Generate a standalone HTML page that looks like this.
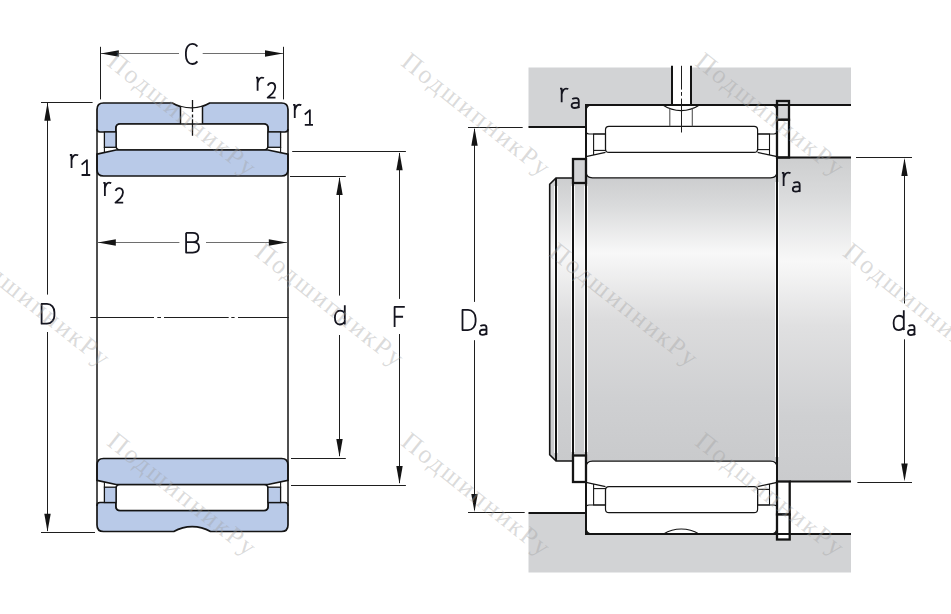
<!DOCTYPE html>
<html><head><meta charset="utf-8"><style>
html,body{margin:0;padding:0;background:#fff;width:951px;height:614px;overflow:hidden}
svg{display:block}
</style></head><body>
<svg width="951" height="614" viewBox="0 0 951 614">
<rect width="951" height="614" fill="#fff"/>
<path d="M97,109.5 Q97,103 103.5,103 L172.3,103 A36.2,36.2 0 0 0 209.7,103 L281.5,103 Q288,103 288,109.5 L288,129 Q288,132 285,132 L268,132 L268,128 Q268,124 264,124 L120,124 Q116,124 116,128 L116,132 L100,132 Q97,132 97,129 Z" fill="#b9cae8" stroke="#141414" stroke-width="1.7"/>
<path d="M180.5,106.64 A36.2,36.2 0 0 0 202.5,106.75 L202.5,124 L180.5,124 Z" fill="#fff"/>
<line x1="180.5" y1="106.3" x2="180.5" y2="124" stroke="#141414" stroke-width="1.5" />
<line x1="202.5" y1="106.6" x2="202.5" y2="124" stroke="#141414" stroke-width="1.5" />
<rect x="116" y="124" width="152" height="26" rx="4" fill="#fff" stroke="#141414" stroke-width="1.7"/>
<rect x="104.4" y="132" width="11.6" height="15.3" fill="#b9cae8" stroke="#141414" stroke-width="1.3"/>
<rect x="268" y="132" width="12.6" height="15.3" fill="#b9cae8" stroke="#141414" stroke-width="1.3"/>
<line x1="104.4" y1="147" x2="104.4" y2="152.6" stroke="#141414" stroke-width="1.1" />
<line x1="280.6" y1="147" x2="280.6" y2="152.6" stroke="#141414" stroke-width="1.1" />
<path d="M97,154.2 L116,150 L268,150 L288,154.2 L288,169.5 Q288,176 281.5,176 L103.5,176 Q97,176 97,169.5 Z" fill="#b9cae8" stroke="#141414" stroke-width="1.7"/>
<g transform="translate(0 634.5) scale(1 -1)">
<path d="M97,109.5 Q97,103 103.5,103 L173.8,103 A37.5,37.5 0 0 0 210.5,103 L281.5,103 Q288,103 288,109.5 L288,129 Q288,132 285,132 L268,132 L268,128 Q268,124 264,124 L120,124 Q116,124 116,128 L116,132 L100,132 Q97,132 97,129 Z" fill="#b9cae8" stroke="#141414" stroke-width="1.7"/>
<rect x="116" y="124" width="152" height="26" rx="4" fill="#fff" stroke="#141414" stroke-width="1.7"/>
<rect x="104.4" y="132" width="11.6" height="15.3" fill="#b9cae8" stroke="#141414" stroke-width="1.3"/>
<rect x="268" y="132" width="12.6" height="15.3" fill="#b9cae8" stroke="#141414" stroke-width="1.3"/>
<line x1="104.4" y1="147" x2="104.4" y2="152.6" stroke="#141414" stroke-width="1.1" />
<line x1="280.6" y1="147" x2="280.6" y2="152.6" stroke="#141414" stroke-width="1.1" />
<path d="M97,154.2 L116,150 L268,150 L288,154.2 L288,169.5 Q288,176 281.5,176 L103.5,176 Q97,176 97,169.5 Z" fill="#b9cae8" stroke="#141414" stroke-width="1.7"/>
</g>
<line x1="97" y1="129" x2="97" y2="506" stroke="#141414" stroke-width="1.5" />
<line x1="288" y1="129" x2="288" y2="506" stroke="#141414" stroke-width="1.5" />
<path d="M192.5,100 V112 M192.5,114.4 V117.4 M192.5,119.2 V135.7" stroke="#141414" stroke-width="1.3"/>
<line x1="100.5" y1="46.8" x2="100.5" y2="99.4" stroke="#1e1e1e" stroke-width="1" />
<line x1="283.5" y1="46.8" x2="283.5" y2="99.4" stroke="#1e1e1e" stroke-width="1" />
<line x1="101" y1="53.5" x2="179" y2="53.5" stroke="#6e6e6e" stroke-width="1" />
<line x1="202.7" y1="53.5" x2="283" y2="53.5" stroke="#6e6e6e" stroke-width="1" />
<path d="M100.80,53.50 L118.80,50.30 L118.80,56.70 Z" fill="#141414"/>
<path d="M283.00,53.50 L265.00,56.70 L265.00,50.30 Z" fill="#141414"/>
<line x1="41" y1="102.5" x2="92.6" y2="102.5" stroke="#1e1e1e" stroke-width="1" />
<line x1="41" y1="532.5" x2="95" y2="532.5" stroke="#1e1e1e" stroke-width="1" />
<line x1="47.5" y1="103" x2="47.5" y2="294.6" stroke="#1e1e1e" stroke-width="1" />
<line x1="47.5" y1="332" x2="47.5" y2="531" stroke="#1e1e1e" stroke-width="1" />
<path d="M47.50,102.80 L50.70,120.80 L44.30,120.80 Z" fill="#141414"/>
<path d="M47.50,531.80 L44.30,513.80 L50.70,513.80 Z" fill="#141414"/>
<line x1="98" y1="242.5" x2="179.4" y2="242.5" stroke="#6e6e6e" stroke-width="1" />
<line x1="206" y1="242.5" x2="287" y2="242.5" stroke="#6e6e6e" stroke-width="1" />
<path d="M97.80,242.50 L115.80,239.30 L115.80,245.70 Z" fill="#141414"/>
<path d="M286.80,242.50 L268.80,245.70 L268.80,239.30 Z" fill="#141414"/>
<path d="M90.3,317.5 H154 M157.3,317.5 H161 M164,317.5 H228.7 M231.3,317.5 H234.6 M238,317.5 H288.7" stroke="#1e1e1e" stroke-width="1"/>
<line x1="290" y1="176.5" x2="345.8" y2="176.5" stroke="#1e1e1e" stroke-width="1" />
<line x1="291" y1="458.5" x2="345.8" y2="458.5" stroke="#1e1e1e" stroke-width="1" />
<line x1="339.5" y1="178" x2="339.5" y2="295.6" stroke="#1e1e1e" stroke-width="1" />
<line x1="339.5" y1="335" x2="339.5" y2="456" stroke="#1e1e1e" stroke-width="1" />
<path d="M339.50,177.00 L342.70,195.00 L336.30,195.00 Z" fill="#141414"/>
<path d="M339.50,457.00 L336.30,439.00 L342.70,439.00 Z" fill="#141414"/>
<line x1="292.2" y1="151.5" x2="405.9" y2="151.5" stroke="#1e1e1e" stroke-width="1" />
<line x1="291" y1="485.5" x2="405.9" y2="485.5" stroke="#1e1e1e" stroke-width="1" />
<line x1="399.5" y1="153" x2="399.5" y2="298.9" stroke="#1e1e1e" stroke-width="1" />
<line x1="399.5" y1="334" x2="399.5" y2="483" stroke="#1e1e1e" stroke-width="1" />
<path d="M399.50,152.30 L402.70,170.30 L396.30,170.30 Z" fill="#141414"/>
<path d="M399.50,484.00 L396.30,466.00 L402.70,466.00 Z" fill="#141414"/>
<defs><linearGradient id="sh" x1="0" y1="0" x2="0" y2="1"><stop offset="0" stop-color="#cccdcf"/><stop offset="0.1" stop-color="#dadbdc"/><stop offset="0.265" stop-color="#f8f8f8"/><stop offset="0.5" stop-color="#dcdcdd"/><stop offset="0.78" stop-color="#cfd0d2"/><stop offset="1" stop-color="#c9cacc"/></linearGradient><linearGradient id="sh2" x1="0" y1="0" x2="0" y2="1"><stop offset="0" stop-color="#cdcecf"/><stop offset="0.12" stop-color="#dadbdc"/><stop offset="0.32" stop-color="#f8f8f8"/><stop offset="0.52" stop-color="#e0e0e1"/><stop offset="0.8" stop-color="#cfd0d2"/><stop offset="1" stop-color="#cacbcd"/></linearGradient></defs>
<path d="M528.5,67.6 H851 V105 H586 V127 H528.5 Z" fill="#d2d3d5"/>
<path d="M528.5,513 H586 V534 H851 V572.6 H528.5 Z" fill="#d2d3d5"/>
<rect x="777" y="157.5" width="74" height="324" fill="url(#sh2)"/>
<path d="M556,178 H777 V461 H556 L549.7,454.7 V184.3 Z" fill="url(#sh)"/>
<rect x="672" y="60" width="19" height="45" fill="#fff"/>
<rect x="586" y="105" width="191" height="73" fill="#d2d3d5"/>
<path d="M592.5,105 H770.5 Q777,105 777,111.5 V171.3 Q777,177.8 770.5,177.8 H592.5 Q586,177.8 586,171.3 V111.5 Q586,105 592.5,105 Z" fill="#fff"/>
<path d="M592.5,105 H770.5 Q777,105 777,111.5 V131 Q777,134 774,134 H757.6 M605.5,134 H589 Q586,134 586,131 V111.5 Q586,105 592.5,105" fill="none" stroke="#141414" stroke-width="1.2"/>
<rect x="605.5" y="126.3" width="152.1" height="26.1" rx="3.5" fill="none" stroke="#141414" stroke-width="1.2"/>
<rect x="593.6" y="134" width="11.9" height="16.4" fill="none" stroke="#141414" stroke-width="1.1"/>
<rect x="757.6" y="134" width="11.9" height="15.6" fill="none" stroke="#141414" stroke-width="1.1"/>
<path d="M593.6,150.4 V155 M769.5,149.6 V154.9" stroke="#141414" stroke-width="1.1"/>
<path d="M586,156.6 L605.5,152.4 M757.6,152.4 L777,156.6 V171.3 Q777,177.8 770.5,177.8 H592.5 Q586,177.8 586,171.3 V156.6" fill="none" stroke="#141414" stroke-width="1.2"/>
<g transform="translate(0 639) scale(1 -1)">
<rect x="586" y="105" width="191" height="73" fill="#d2d3d5"/>
<path d="M592.5,105 H770.5 Q777,105 777,111.5 V171.3 Q777,177.8 770.5,177.8 H592.5 Q586,177.8 586,171.3 V111.5 Q586,105 592.5,105 Z" fill="#fff"/>
<path d="M592.5,105 H770.5 Q777,105 777,111.5 V131 Q777,134 774,134 H757.6 M605.5,134 H589 Q586,134 586,131 V111.5 Q586,105 592.5,105" fill="none" stroke="#141414" stroke-width="1.2"/>
<rect x="605.5" y="126.3" width="152.1" height="26.1" rx="3.5" fill="none" stroke="#141414" stroke-width="1.2"/>
<rect x="593.6" y="134" width="11.9" height="16.4" fill="none" stroke="#141414" stroke-width="1.1"/>
<rect x="757.6" y="134" width="11.9" height="15.6" fill="none" stroke="#141414" stroke-width="1.1"/>
<path d="M593.6,150.4 V155 M769.5,149.6 V154.9" stroke="#141414" stroke-width="1.1"/>
<path d="M586,156.6 L605.5,152.4 M757.6,152.4 L777,156.6 V171.3 Q777,177.8 770.5,177.8 H592.5 Q586,177.8 586,171.3 V156.6" fill="none" stroke="#141414" stroke-width="1.2"/>
</g>
<path d="M662.8,105 A32.9,32.9 0 0 0 699.5,105" fill="#fff" stroke="#141414" stroke-width="1.1"/>
<line x1="669.8" y1="108.6" x2="669.8" y2="126.3" stroke="#555" stroke-width="1.1" />
<line x1="692.3" y1="108.6" x2="692.3" y2="126.3" stroke="#555" stroke-width="1.1" />
<path d="M663.5,534 A34,34 0 0 1 699,534" fill="#fff" stroke="#141414" stroke-width="1.1"/>
<path d="M556,186 V453 M573,186 V452 M586,186 V452 M777,182 V457" stroke="#fff" stroke-width="4" opacity="0.9"/>
<rect x="573" y="159" width="13" height="24" fill="#d2d3d5" stroke="#141414" stroke-width="2.3"/>
<rect x="573" y="455.5" width="13" height="26.5" fill="#fff" stroke="#141414" stroke-width="2.3"/>
<line x1="573" y1="183" x2="573" y2="455.5" stroke="#141414" stroke-width="2" />
<rect x="777" y="101" width="12" height="18.8" fill="#d2d3d5" stroke="#141414" stroke-width="2.3"/>
<rect x="777" y="119.8" width="12" height="37.7" fill="#fff" stroke="#141414" stroke-width="2.3"/>
<rect x="777" y="481.5" width="12.7" height="33" fill="#fff" stroke="#141414" stroke-width="2.3"/>
<rect x="777" y="514.5" width="12.7" height="25" fill="#fff" stroke="#141414" stroke-width="2.3"/>
<path d="M528.5,127 H586 V105 H851" fill="none" stroke="#141414" stroke-width="2"/>
<path d="M528.5,513 H586 V534 H851" fill="none" stroke="#141414" stroke-width="2"/>
<line x1="586" y1="105" x2="586" y2="534" stroke="#141414" stroke-width="2" />
<line x1="777" y1="101" x2="777" y2="539.5" stroke="#141414" stroke-width="2" />
<path d="M573,178 H556 L549.7,184.3 V454.7 L556,461 H573" fill="none" stroke="#141414" stroke-width="1.6"/>
<line x1="556" y1="178" x2="556" y2="461" stroke="#141414" stroke-width="2" />
<line x1="777" y1="157.5" x2="851" y2="157.5" stroke="#141414" stroke-width="1.8" />
<line x1="789.7" y1="481.5" x2="851" y2="481.5" stroke="#141414" stroke-width="1.8" />
<line x1="672" y1="65.8" x2="672" y2="105" stroke="#141414" stroke-width="2" />
<line x1="691" y1="65.8" x2="691" y2="105" stroke="#141414" stroke-width="2" />
<path d="M681.5,65.8 V89.6 M681.5,92 V95.8 M681.5,98.6 V132.5" stroke="#1e1e1e" stroke-width="1"/>
<line x1="468" y1="127.5" x2="522.7" y2="127.5" stroke="#1e1e1e" stroke-width="1" />
<line x1="468" y1="512.5" x2="524.7" y2="512.5" stroke="#1e1e1e" stroke-width="1" />
<line x1="474.5" y1="129" x2="474.5" y2="301.9" stroke="#1e1e1e" stroke-width="1" />
<line x1="474.5" y1="340.2" x2="474.5" y2="510" stroke="#1e1e1e" stroke-width="1" />
<path d="M474.50,127.80 L477.70,145.80 L471.30,145.80 Z" fill="#141414"/>
<path d="M474.50,512.00 L471.30,494.00 L477.70,494.00 Z" fill="#141414"/>
<line x1="856" y1="157.5" x2="912" y2="157.5" stroke="#1e1e1e" stroke-width="1" />
<line x1="857.4" y1="482.5" x2="912" y2="482.5" stroke="#1e1e1e" stroke-width="1" />
<line x1="904.5" y1="160" x2="904.5" y2="303.5" stroke="#1e1e1e" stroke-width="1" />
<line x1="904.5" y1="339.3" x2="904.5" y2="479" stroke="#1e1e1e" stroke-width="1" />
<path d="M904.50,158.00 L907.70,176.00 L901.30,176.00 Z" fill="#141414"/>
<path d="M904.50,481.50 L901.30,463.50 L907.70,463.50 Z" fill="#141414"/>
<g font-family="Liberation Sans" fill="#15151f">
<path d="M0.98,0.13 C0.86,0.03 0.72,0 0.55,0 C0.2,0 0,0.2 0,0.42 L0,0.58 C0,0.8 0.2,1 0.55,1 C0.72,1 0.86,0.97 0.98,0.87" transform="matrix(11.700 0 0 20.100 185.90 43.90)" fill="none" stroke="#15151f" stroke-width="1.8" vector-effect="non-scaling-stroke" stroke-linejoin="round"/>
<path d="M0,0.03 H0.2 V1 M0.2,0.42 C0.32,0.15 0.5,0.02 0.72,0.02 C0.85,0.02 0.93,0.03 1,0.05" transform="matrix(8.000 0 0 13.500 256.00 77.30)" fill="none" stroke="#15151f" stroke-width="1.8" vector-effect="non-scaling-stroke" stroke-linejoin="round"/>
<path d="M0.03,0.19 C0.15,0.06 0.3,0 0.5,0 C0.8,0 0.97,0.14 0.97,0.3 C0.97,0.46 0.86,0.56 0.62,0.71 L0.02,1 H1" transform="matrix(8.000 0 0 14.800 267.50 82.90)" fill="none" stroke="#15151f" stroke-width="1.8" vector-effect="non-scaling-stroke" stroke-linejoin="round"/>
<path d="M0,0.03 H0.2 V1 M0.2,0.42 C0.32,0.15 0.5,0.02 0.72,0.02 C0.85,0.02 0.93,0.03 1,0.05" transform="matrix(8.200 0 0 13.600 293.10 104.50)" fill="none" stroke="#15151f" stroke-width="1.8" vector-effect="non-scaling-stroke" stroke-linejoin="round"/>
<path d="M0,0.3 L0.62,0 V1 M0,1 H1" transform="matrix(8.200 0 0 14.800 304.80 110.10)" fill="none" stroke="#15151f" stroke-width="1.8" vector-effect="non-scaling-stroke" stroke-linejoin="round"/>
<path d="M0,0.03 H0.2 V1 M0.2,0.42 C0.32,0.15 0.5,0.02 0.72,0.02 C0.85,0.02 0.93,0.03 1,0.05" transform="matrix(8.350 0 0 13.300 69.85 154.60)" fill="none" stroke="#15151f" stroke-width="1.8" vector-effect="non-scaling-stroke" stroke-linejoin="round"/>
<path d="M0,0.3 L0.62,0 V1 M0,1 H1" transform="matrix(8.600 0 0 14.900 81.60 160.10)" fill="none" stroke="#15151f" stroke-width="1.8" vector-effect="non-scaling-stroke" stroke-linejoin="round"/>
<path d="M0,0.03 H0.2 V1 M0.2,0.42 C0.32,0.15 0.5,0.02 0.72,0.02 C0.85,0.02 0.93,0.03 1,0.05" transform="matrix(7.900 0 0 13.500 103.30 182.40)" fill="none" stroke="#15151f" stroke-width="1.8" vector-effect="non-scaling-stroke" stroke-linejoin="round"/>
<path d="M0.03,0.19 C0.15,0.06 0.3,0 0.5,0 C0.8,0 0.97,0.14 0.97,0.3 C0.97,0.46 0.86,0.56 0.62,0.71 L0.02,1 H1" transform="matrix(7.900 0 0 14.600 115.30 188.10)" fill="none" stroke="#15151f" stroke-width="1.8" vector-effect="non-scaling-stroke" stroke-linejoin="round"/>
<path d="M0,0 V1 H0.52 C0.83,1 1,0.88 1,0.72 C1,0.56 0.83,0.47 0.52,0.47 H0 M0.52,0.47 C0.78,0.47 0.94,0.38 0.94,0.235 C0.94,0.09 0.78,0 0.52,0 H0" transform="matrix(12.900 0 0 19.800 186.10 232.80)" fill="none" stroke="#15151f" stroke-width="1.8" vector-effect="non-scaling-stroke" stroke-linejoin="round"/>
<path d="M0,0 H0.42 C0.78,0 1,0.2 1,0.42 V0.58 C1,0.8 0.78,1 0.42,1 H0 Z" transform="matrix(12.800 0 0 19.800 41.60 303.90)" fill="none" stroke="#15151f" stroke-width="1.8" vector-effect="non-scaling-stroke" stroke-linejoin="round"/>
<path d="M0.97,0 V0.94 L1,1 M0.97,0.42 C0.85,0.31 0.7,0.28 0.5,0.28 C0.18,0.28 0,0.45 0,0.64 C0,0.86 0.18,1 0.48,1 C0.7,1 0.86,0.95 0.97,0.86" transform="matrix(10.200 0 0 19.300 334.90 305.20)" fill="none" stroke="#15151f" stroke-width="1.8" vector-effect="non-scaling-stroke" stroke-linejoin="round"/>
<path d="M1,0 H0 V1 M0,0.49 H0.83" transform="matrix(10.200 0 0 20.100 394.60 306.90)" fill="none" stroke="#15151f" stroke-width="1.8" vector-effect="non-scaling-stroke" stroke-linejoin="round"/>
<path d="M0,0.03 H0.2 V1 M0.2,0.42 C0.32,0.15 0.5,0.02 0.72,0.02 C0.85,0.02 0.93,0.03 1,0.05" transform="matrix(8.300 0 0 14.000 560.00 88.30)" fill="none" stroke="#15151f" stroke-width="1.8" vector-effect="non-scaling-stroke" stroke-linejoin="round"/>
<path d="M0.08,0.1 C0.25,0.02 0.45,0 0.6,0 C0.83,0 0.93,0.12 0.93,0.3 V0.92 L1,1 M0.93,0.48 H0.42 C0.15,0.48 0,0.6 0,0.75 C0,0.91 0.15,1 0.42,1 C0.66,1 0.84,0.93 0.93,0.82" transform="matrix(7.700 0 0 9.900 571.60 98.10)" fill="none" stroke="#15151f" stroke-width="1.8" vector-effect="non-scaling-stroke" stroke-linejoin="round"/>
<path d="M0,0.03 H0.2 V1 M0.2,0.42 C0.32,0.15 0.5,0.02 0.72,0.02 C0.85,0.02 0.93,0.03 1,0.05" transform="matrix(8.600 0 0 13.600 781.90 172.40)" fill="none" stroke="#15151f" stroke-width="1.8" vector-effect="non-scaling-stroke" stroke-linejoin="round"/>
<path d="M0.08,0.1 C0.25,0.02 0.45,0 0.6,0 C0.83,0 0.93,0.12 0.93,0.3 V0.92 L1,1 M0.93,0.48 H0.42 C0.15,0.48 0,0.6 0,0.75 C0,0.91 0.15,1 0.42,1 C0.66,1 0.84,0.93 0.93,0.82" transform="matrix(7.400 0 0 9.600 792.80 182.10)" fill="none" stroke="#15151f" stroke-width="1.8" vector-effect="non-scaling-stroke" stroke-linejoin="round"/>
<path d="M0,0 H0.42 C0.78,0 1,0.2 1,0.42 V0.58 C1,0.8 0.78,1 0.42,1 H0 Z" transform="matrix(13.100 0 0 20.200 462.50 309.90)" fill="none" stroke="#15151f" stroke-width="1.8" vector-effect="non-scaling-stroke" stroke-linejoin="round"/>
<path d="M0.08,0.1 C0.25,0.02 0.45,0 0.6,0 C0.83,0 0.93,0.12 0.93,0.3 V0.92 L1,1 M0.93,0.48 H0.42 C0.15,0.48 0,0.6 0,0.75 C0,0.91 0.15,1 0.42,1 C0.66,1 0.84,0.93 0.93,0.82" transform="matrix(7.200 0 0 9.700 479.80 325.10)" fill="none" stroke="#15151f" stroke-width="1.8" vector-effect="non-scaling-stroke" stroke-linejoin="round"/>
<path d="M0.97,0 V0.94 L1,1 M0.97,0.42 C0.85,0.31 0.7,0.28 0.5,0.28 C0.18,0.28 0,0.45 0,0.64 C0,0.86 0.18,1 0.48,1 C0.7,1 0.86,0.95 0.97,0.86" transform="matrix(10.500 0 0 19.900 893.60 310.20)" fill="none" stroke="#15151f" stroke-width="1.8" vector-effect="non-scaling-stroke" stroke-linejoin="round"/>
<path d="M0.08,0.1 C0.25,0.02 0.45,0 0.6,0 C0.83,0 0.93,0.12 0.93,0.3 V0.92 L1,1 M0.93,0.48 H0.42 C0.15,0.48 0,0.6 0,0.75 C0,0.91 0.15,1 0.42,1 C0.66,1 0.84,0.93 0.93,0.82" transform="matrix(7.000 0 0 10.000 908.00 325.10)" fill="none" stroke="#15151f" stroke-width="1.8" vector-effect="non-scaling-stroke" stroke-linejoin="round"/>
</g>
<text transform="translate(105.7 64.5) rotate(38.5)" font-family="Liberation Serif" font-size="26" letter-spacing="2.1" fill="#a0a0a0" fill-opacity="0.38">ПодшипникРу</text>
<text transform="translate(399.7 64.5) rotate(38.5)" font-family="Liberation Serif" font-size="26" letter-spacing="2.1" fill="#a0a0a0" fill-opacity="0.38">ПодшипникРу</text>
<text transform="translate(693.7 64.5) rotate(38.5)" font-family="Liberation Serif" font-size="26" letter-spacing="2.1" fill="#a0a0a0" fill-opacity="0.38">ПодшипникРу</text>
<text transform="translate(-40.5 254.8) rotate(38.5)" font-family="Liberation Serif" font-size="26" letter-spacing="2.1" fill="#a0a0a0" fill-opacity="0.38">ПодшипникРу</text>
<text transform="translate(253.5 254.8) rotate(38.5)" font-family="Liberation Serif" font-size="26" letter-spacing="2.1" fill="#a0a0a0" fill-opacity="0.38">ПодшипникРу</text>
<text transform="translate(547.5 254.8) rotate(38.5)" font-family="Liberation Serif" font-size="26" letter-spacing="2.1" fill="#a0a0a0" fill-opacity="0.38">ПодшипникРу</text>
<text transform="translate(841.5 254.8) rotate(38.5)" font-family="Liberation Serif" font-size="26" letter-spacing="2.1" fill="#a0a0a0" fill-opacity="0.38">ПодшипникРу</text>
<text transform="translate(105.7 444.2) rotate(38.5)" font-family="Liberation Serif" font-size="26" letter-spacing="2.1" fill="#a0a0a0" fill-opacity="0.38">ПодшипникРу</text>
<text transform="translate(399.7 444.2) rotate(38.5)" font-family="Liberation Serif" font-size="26" letter-spacing="2.1" fill="#a0a0a0" fill-opacity="0.38">ПодшипникРу</text>
<text transform="translate(693.7 444.2) rotate(38.5)" font-family="Liberation Serif" font-size="26" letter-spacing="2.1" fill="#a0a0a0" fill-opacity="0.38">ПодшипникРу</text>
</svg></body></html>
